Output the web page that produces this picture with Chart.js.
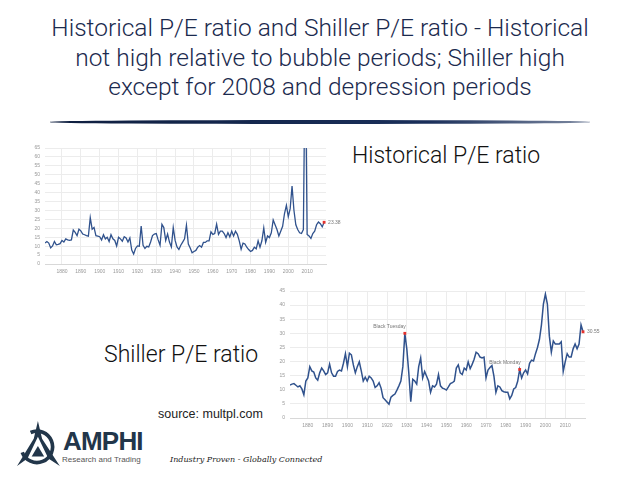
<!DOCTYPE html>
<html>
<head>
<meta charset="utf-8">
<script src="https://cdn.jsdelivr.net/npm/chart.js@4.4.1/dist/chart.umd.min.js"></script>
<style>
  body { margin: 0; background: #fff; width: 640px; height: 482px; overflow: hidden; position: relative; font-family: "Liberation Sans", Arial, sans-serif; }
  .abs { position: absolute; }
  #title { left: 0; top: 13px; width: 640px; text-align: center; font-family: Roboto, "Liberation Sans", sans-serif; font-weight: 300; font-size: 24.5px; line-height: 29.5px; color: #1b2a4e; }
  #rule { left: 50px; top: 120px; width: 540px; height: 3.5px; border-radius: 50%; background: linear-gradient(90deg, #0f1f40, #1a2f5a 70%, rgba(40,60,100,0.6)); }
  .chart-box { position: absolute; }
  .big { font-family: Roboto, "Liberation Sans", sans-serif; font-weight: 300; font-size: 23px; color: #111; white-space: nowrap; }
  #tagline { left: 170px; top: 455px; font-family: "DejaVu Serif", serif; font-style: italic; font-size: 8px; color: #222; }
</style>
</head>
<body>
<div id="title" class="abs">Historical P/E ratio and Shiller P/E ratio - Historical<br>not high relative to bubble periods; Shiller high<br>except for 2008 and depression periods</div>
<div id="rule" class="abs"></div>

<div class="chart-box" style="left:30px; top:140px; width:320px; height:138px;"><canvas id="pe-chart"></canvas></div>
<div class="abs big" style="left:352px; top:142px;">Historical P/E ratio</div>

<div class="chart-box" style="left:270px; top:283px; width:339px; height:149px;"><canvas id="shiller-chart"></canvas></div>
<div class="abs big" style="left:104px; top:341px;">Shiller P/E ratio</div>
<div class="abs" style="left:158px; top:407px; font-size:12.5px; color:#222;">source: multpl.com</div>

<svg class="abs" style="left:16px; top:420px;" width="48" height="48" viewBox="0 0 46 46">
  <path d="M21 1 L25 18 L42 44 L31 37 L21 16 L11 37 L1 44 L17 18 Z" fill="#22364a"/>
  <path d="M6 31 A15 15 0 1 0 14 12" fill="none" stroke="#22364a" stroke-width="3.5"/>
  <path d="M15 35 L21 25 L27 35 Z" fill="#22364a"/>
</svg>
<div class="abs" style="left:63px; top:426px; font-weight:bold; font-size:26px; letter-spacing:-0.8px; color:#22364a;">AMPHI</div>
<div class="abs" style="left:62px; top:455px; font-size:8px; color:#555;">Research and Trading</div>
<div id="tagline" class="abs">Industry Proven - Globally Connected</div>

<script>
// yearly values, 1871 .. 2019
const years = [];
for (let y = 1871; y <= 2019; y++) years.push(y);

const xTicks = [1880, 1890, 1900, 1910, 1920, 1930, 1940, 1950, 1960, 1970, 1980, 1990, 2000, 2010];
const peTicks = [0, 5, 10, 15, 20, 25, 30, 35, 40, 45, 50, 55, 60, 65];
const shillerTicks = [0, 5, 10, 15, 20, 25, 30, 35, 40, 45];

const peValues = [
    11.7, 12.6, 11.7, 9.0, 10.1, 12.6, 10.8, 11.0, 11.4,
    13.2, 12.3, 14.1, 13.5, 13.2, 13.5, 19.0, 17.7, 15.9, 19.5,
    18.6, 16.8, 16.4, 15.9, 15.6, 26.0, 19.5, 20.5, 15.9, 15.6,
    15.3, 13.5, 16.4, 14.1, 15.0, 12.6, 16.4, 14.1, 13.2, 10.1,
    15.0, 14.1, 12.8, 15.3, 14.6, 12.3, 14.6, 7.8, 5.6, 8.7,
    10.1, 9.9, 21.3, 10.5, 8.7, 9.9, 9.6, 12.3, 15.9, 16.8,
    17.1, 13.5, 10.5, 22.2, 20.4, 13.2, 16.8, 12.3, 9.6, 20.4,
    13.2, 9.6, 8.1, 10.5, 12.3, 14.1, 21.7, 11.2, 9.0, 6.3,
    7.0, 7.6, 9.4, 10.3, 9.4, 12.1, 12.1, 13.0, 13.0, 18.0,
    16.6, 17.1, 22.3, 16.6, 18.4, 18.4, 17.1, 14.8, 17.5, 15.2,
    18.4, 15.7, 18.4, 16.6, 13.0, 8.3, 11.7, 11.2, 9.4, 8.1,
    7.0, 7.6, 9.4, 8.5, 13.0, 9.4, 13.0, 20.2, 12.1, 15.7,
    14.8, 17.5, 24.7, 22.0, 19.3, 15.7, 18.4, 21.1, 28.3, 32.9,
    26.5, 31.0, 43.7, 30.1, 22.0, 19.3, 17.5, 17.1, 19.3, 123.7,
    16.6, 15.7, 14.3, 17.1, 18.4, 22.0, 23.5, 22.6, 20.8, 23.38
];

const shillerValues = [
    11.7, 12.0, 12.2, 11.6, 11.0, 11.4, 10.3, 8.2, 13.1,
    14.2, 18.2, 16.7, 16.3, 14.2, 13.4, 16.0, 17.7, 16.7, 15.4,
    16.0, 19.1, 16.0, 14.8, 14.8, 16.5, 17.0, 16.7, 19.4, 22.8,
    18.2, 23.0, 22.4, 18.8, 16.0, 18.2, 19.9, 16.7, 13.1, 14.5,
    13.1, 14.8, 14.2, 13.1, 10.8, 11.4, 12.5, 10.6, 7.2, 6.5,
    5.7, 4.9, 7.4, 8.0, 8.5, 9.9, 11.4, 13.1, 18.2, 30.0,
    24.5, 16.0, 5.8, 13.7, 13.1, 12.0, 18.2, 21.3, 14.2, 16.5,
    14.8, 13.1, 9.1, 11.4, 11.0, 12.0, 15.4, 11.4, 10.6, 10.3,
    9.9, 11.0, 12.2, 12.5, 13.1, 17.7, 18.8, 16.0, 15.4, 17.7,
    17.0, 19.9, 17.5, 19.0, 20.8, 23.3, 22.8, 21.6, 21.3, 21.6,
    14.2, 17.0, 17.9, 18.6, 14.8, 9.1, 11.4, 11.0, 9.7, 9.3,
    9.1, 9.1, 6.8, 8.0, 10.3, 10.8, 13.0, 17.2, 14.2, 16.0,
    17.0, 15.6, 19.4, 20.5, 20.2, 22.8, 25.0, 27.9, 33.0, 40.4,
    43.9, 40.4, 29.0, 23.3, 27.3, 26.2, 26.2, 26.2, 27.0, 16.5,
    19.9, 22.8, 21.6, 21.6, 24.5, 26.2, 24.5, 26.2, 33.0, 30.55
];

const peMarks = [2019];
const peNotes = ['23.38'];
const shillerMarks = [1929, 1987, 2019];
const shillerNotes = ['Black Tuesday', 'Black Monday', '30.55'];

const LINE = '#30528d';
const RED = '#e5322d';

// draws the little text next to the red markers
const notePlugin = {
    id: 'notes',
    afterDatasetsDraw(chart, args, opts) {
        const ctx = chart.ctx;
        const xs = chart.scales.x;
        const ys = chart.scales.y;
        ctx.save();
        ctx.font = '5px "Liberation Sans", Arial, sans-serif';
        ctx.fillStyle = '#777';
        opts.marks.forEach((yr, i) => {
            const idx = years.indexOf(yr);
            const px = xs.getPixelForValue(yr);
            const py = ys.getPixelForValue(opts.values[idx]);
            if (idx === years.length - 1) {
                ctx.textAlign = 'left';
                ctx.textBaseline = 'middle';
                ctx.fillText(opts.notes[i], px + 4, py);
            } else {
                ctx.textAlign = 'right';
                ctx.textBaseline = 'alphabetic';
                ctx.fillText(opts.notes[i], px + 1, py - 5);
            }
        });
        ctx.restore();
    }
};

function makeChart(id, values, yTicks, yWidth, lineWidth, marks, notes) {
    const ctx = document.getElementById(id).getContext('2d');
    return new Chart(ctx, {
        type: 'line',
        data: {
            datasets: [{
                data: years.map((yr, i) => ({ x: yr, y: values[i] })),
                borderColor: LINE,
                borderWidth: lineWidth,
                tension: 0,
                fill: false,
                pointStyle: 'rect',
                pointRadius: c => marks.includes(years[c.dataIndex]) ? 2 : 0,
                pointBackgroundColor: RED,
                pointBorderColor: RED,
                pointBorderWidth: 0
            }]
        },
        options: {
            responsive: true,
            maintainAspectRatio: false,
            animation: false,
            layout: { padding: { top: 4, right: 24, left: 0, bottom: 0 } },
            scales: {
                x: {
                    type: 'linear',
                    min: 1871,
                    max: 2020,
                    afterBuildTicks: axis => { axis.ticks = xTicks.map(v => ({ value: v })); },
                    afterFit: s => { s.height = 14; },
                    grid: { color: '#ececec', drawTicks: false },
                    border: { display: true, color: '#d8d8d8' },
                    ticks: { color: '#999', font: { size: 5 }, padding: 5, autoSkip: false, callback: v => String(v), maxRotation: 0 }
                },
                y: {
                    min: 0,
                    max: yTicks[yTicks.length - 1],
                    afterBuildTicks: axis => { axis.ticks = yTicks.map(v => ({ value: v })); },
                    afterFit: s => { s.width = yWidth; },
                    grid: { color: '#ececec', drawTicks: false },
                    border: { display: false },
                    ticks: { color: '#999', font: { size: 5 }, padding: 5, autoSkip: false }
                }
            },
            plugins: {
                legend: { display: false },
                tooltip: { enabled: false },
                notes: { marks: marks, notes: notes, values: values }
            }
        },
        plugins: [notePlugin]
    });
}

makeChart('pe-chart', peValues, peTicks, 15, 1.3, peMarks, peNotes);
makeChart('shiller-chart', shillerValues, shillerTicks, 20, 1.5, shillerMarks, shillerNotes);
</script>
</body>
</html>
